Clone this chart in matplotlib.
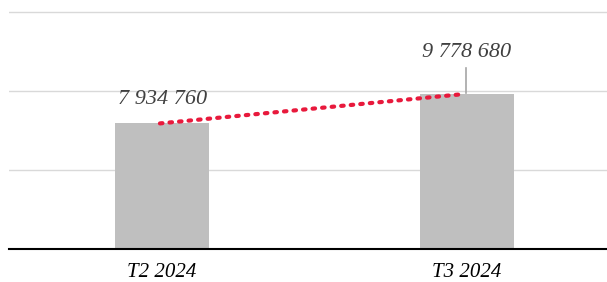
import matplotlib
matplotlib.use("Agg")
import matplotlib.pyplot as plt

categories = ["T2 2024", "T3 2024"]
values = [7934760, 9778680]
value_labels = ["7 934 760", "9 778 680"]

W, H = 607, 282
fig = plt.figure(figsize=(W / 100, H / 100), dpi=100)
ax = fig.add_axes([9 / W, 1 - 249 / H, 1 - 9 / W, (249 - 10) / H])

x = list(range(len(categories)))
ax.set_xlim(-0.502, 1.459)
ax.set_ylim(0, 15_100_000)
ax.set_yticks([5_000_000, 10_000_000, 15_000_000])
ax.yaxis.grid(True, color="#d9d9d9", linewidth=1)
ax.set_axisbelow(True)
ax.tick_params(axis="y", left=False, labelleft=False)
ax.tick_params(axis="x", length=0, pad=10)
for s in ["top", "right", "left"]:
    ax.spines[s].set_visible(False)
ax.spines["bottom"].set_color("black")
ax.spines["bottom"].set_linewidth(1.5)

ax.bar(x, values, width=0.31, color="#bfbfbf", zorder=2)

ax.plot([x[0] - 0.007, x[1] - 0.016], values, linestyle=(0, (0.6, 1.7)),
        color="#e8193c", linewidth=3, dash_capstyle="round", zorder=3)

ax.set_xticks(x)
ax.set_xticklabels(categories, fontfamily="Liberation Serif", fontstyle="italic",
                   fontsize=15, color="black")

font = dict(fontfamily="Liberation Serif", fontstyle="italic", fontsize=16,
            color="#404040", ha="center", va="center")
ax.text(x[0] + 0.003, values[0] + 24 * 63478, value_labels[0], **font)
ax.text(x[1] - 0.003, values[1] + 42 * 63478, value_labels[1], **font)
ax.plot([x[1] - 0.003, x[1] - 0.003], [values[1] + 0.1e6, values[1] + 26 * 63478],
        color="#a6a6a6", linewidth=1.2, zorder=3)

fig.savefig("out.png", dpi=100)
